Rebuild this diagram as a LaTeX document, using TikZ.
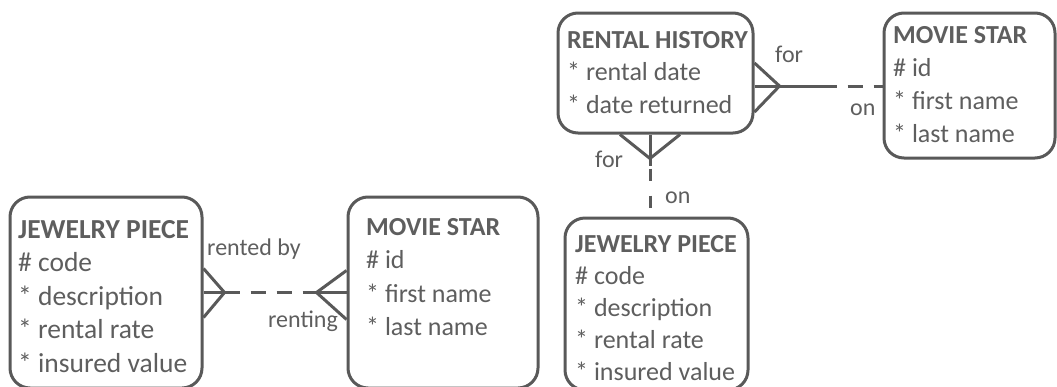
\documentclass[tikz,border=0pt]{standalone}
\usepackage{fontspec}
\setmainfont{Carlito}
\usetikzlibrary{calc}
\definecolor{ink}{HTML}{595959}
\definecolor{txt}{HTML}{5E5E5E}
\tikzset{
  entity/.style={draw=ink, line width=3pt, rounded corners=20pt, inner sep=0pt},
  ttl/.style={inner sep=0pt, text=txt, font=\fontsize{26}{31}\selectfont\bfseries},
  attr/.style={inner sep=0pt, text=txt, font=\fontsize{26}{31}\selectfont},
  ttlL/.style={ttl, font=\fontsize{27.5}{33}\selectfont\bfseries},
  attrL/.style={attr, font=\fontsize{27.5}{33}\selectfont},
  rel/.style={inner sep=0pt, text=txt, font=\fontsize{24}{29}\selectfont},
  link/.style={draw=ink, line width=3pt},
  opt/.style={link, dash pattern=on 15pt off 11pt},
}
\begin{document}
\begin{tikzpicture}[x=1pt, y=-1pt]
\useasboundingbox (0,0) rectangle (1057,386);
\clip (0,0) rectangle (1057,386);

% entity boxes
\node[entity, minimum width=192, minimum height=191] (jp1) at (106,292.5) {};
\node[entity, minimum width=190, minimum height=191] (ms1) at (443,292.5) {};
\node[entity, minimum width=183, minimum height=172] (jp2) at (656.5,304) {};
\node[entity, minimum width=195, minimum height=120] (rh) at (655.5,73) {};
\node[entity, minimum width=171, minimum height=145] (ms2) at (969.5,85.5) {};

% JEWELRY PIECE (left)
\node[ttlL, anchor=base west] (jp1-t) at (18,238) {JEWELRY PIECE};
\foreach \s [count=\i] in {\# code, * description, * rental rate, * insured value}
  \node[attrL, anchor=base west] (jp1-\i) at (18,238+33.5*\i) {\s};

% MOVIE STAR (middle)
\node[ttl, anchor=base west] (ms1-t) at (366,235) {MOVIE STAR};
\foreach \s [count=\i] in {\# id, * first name, * last name}
  \node[attr, anchor=base west] (ms1-\i) at (366,235+33.5*\i) {\s};

% JEWELRY PIECE (lower right)
\node[ttl, anchor=base west] (jp2-t) at (575,252) {JEWELRY PIECE};
\foreach \s [count=\i] in {\# code, * description, * rental rate, * insured value}
  \node[attr, anchor=base west] (jp2-\i) at (575,252+32*\i) {\s};

% RENTAL HISTORY
\node[ttl, anchor=base west] (rh-t) at (567,48) {RENTAL HISTORY};
\foreach \s [count=\i] in {* rental date, * date returned}
  \node[attr, anchor=base west] (rh-\i) at (567,48+32.5*\i) {\s};

% MOVIE STAR (upper right)
\node[ttl, anchor=base west] (ms2-t) at (893,43) {MOVIE STAR};
\foreach \s [count=\i] in {\# id, * first name, * last name}
  \node[attr, anchor=base west] (ms2-\i) at (893,43+33*\i) {\s};

% JEWELRY PIECE -- MOVIE STAR : many to many, both optional
\coordinate (l1) at ($(jp1.east)+(21,0)$);
\coordinate (l2) at ($(ms1.west)+(-30,0)$);
\draw[link] ($(jp1.east)+(0,-24)$) -- (l1) -- ($(jp1.east)+(0,25)$);
\draw[link] (jp1.east) -- (l1);
\draw[opt] (l1) -- (l2);
\draw[link] ($(ms1.west)+(0,-22)$) -- (l2) -- ($(ms1.west)+(0,27)$);
\draw[link] (l2) -- (ms1.west);
\node[rel, anchor=base west] (lb1) at (207,255) {rented by};
\node[rel, anchor=base east] (lb2) at (338,327) {renting};

% RENTAL HISTORY -- MOVIE STAR
\coordinate (r0) at ($(rh.east)+(0,13)$);
\coordinate (r1) at ($(r0)+(25,0)$);
\coordinate (r2) at ($(r0)+(67,0)$);
\draw[link] ($(r0)+(0,-23)$) -- (r1) -- ($(r0)+(0,26)$);
\draw[link] (r0) -- (r2);
\draw[opt] (r2) -- (ms2.west |- r0);
\node[rel, anchor=base west] (lb3) at (775,62) {for};
\node[rel, anchor=base west] (lb4) at (850,115) {on};

% RENTAL HISTORY -- JEWELRY PIECE
\coordinate (v0) at ($(rh.south)+(-5.5,0)$);
\coordinate (v1) at ($(v0)+(0,24)$);
\coordinate (v2) at ($(v0)+(0,31)$);
\draw[link] ($(v0)+(-30,0)$) -- (v1) -- ($(v0)+(30,0)$);
\draw[link] (v0) -- (v2);
\draw[opt, dash pattern=on 12pt off 15pt, dash phase=-3pt] (v2) -- (v0 |- jp2.north);
\node[rel, anchor=base west] (lb5) at (595,167) {for};
\node[rel, anchor=base west] (lb6) at (665,203) {on};
\end{tikzpicture}
\end{document}
